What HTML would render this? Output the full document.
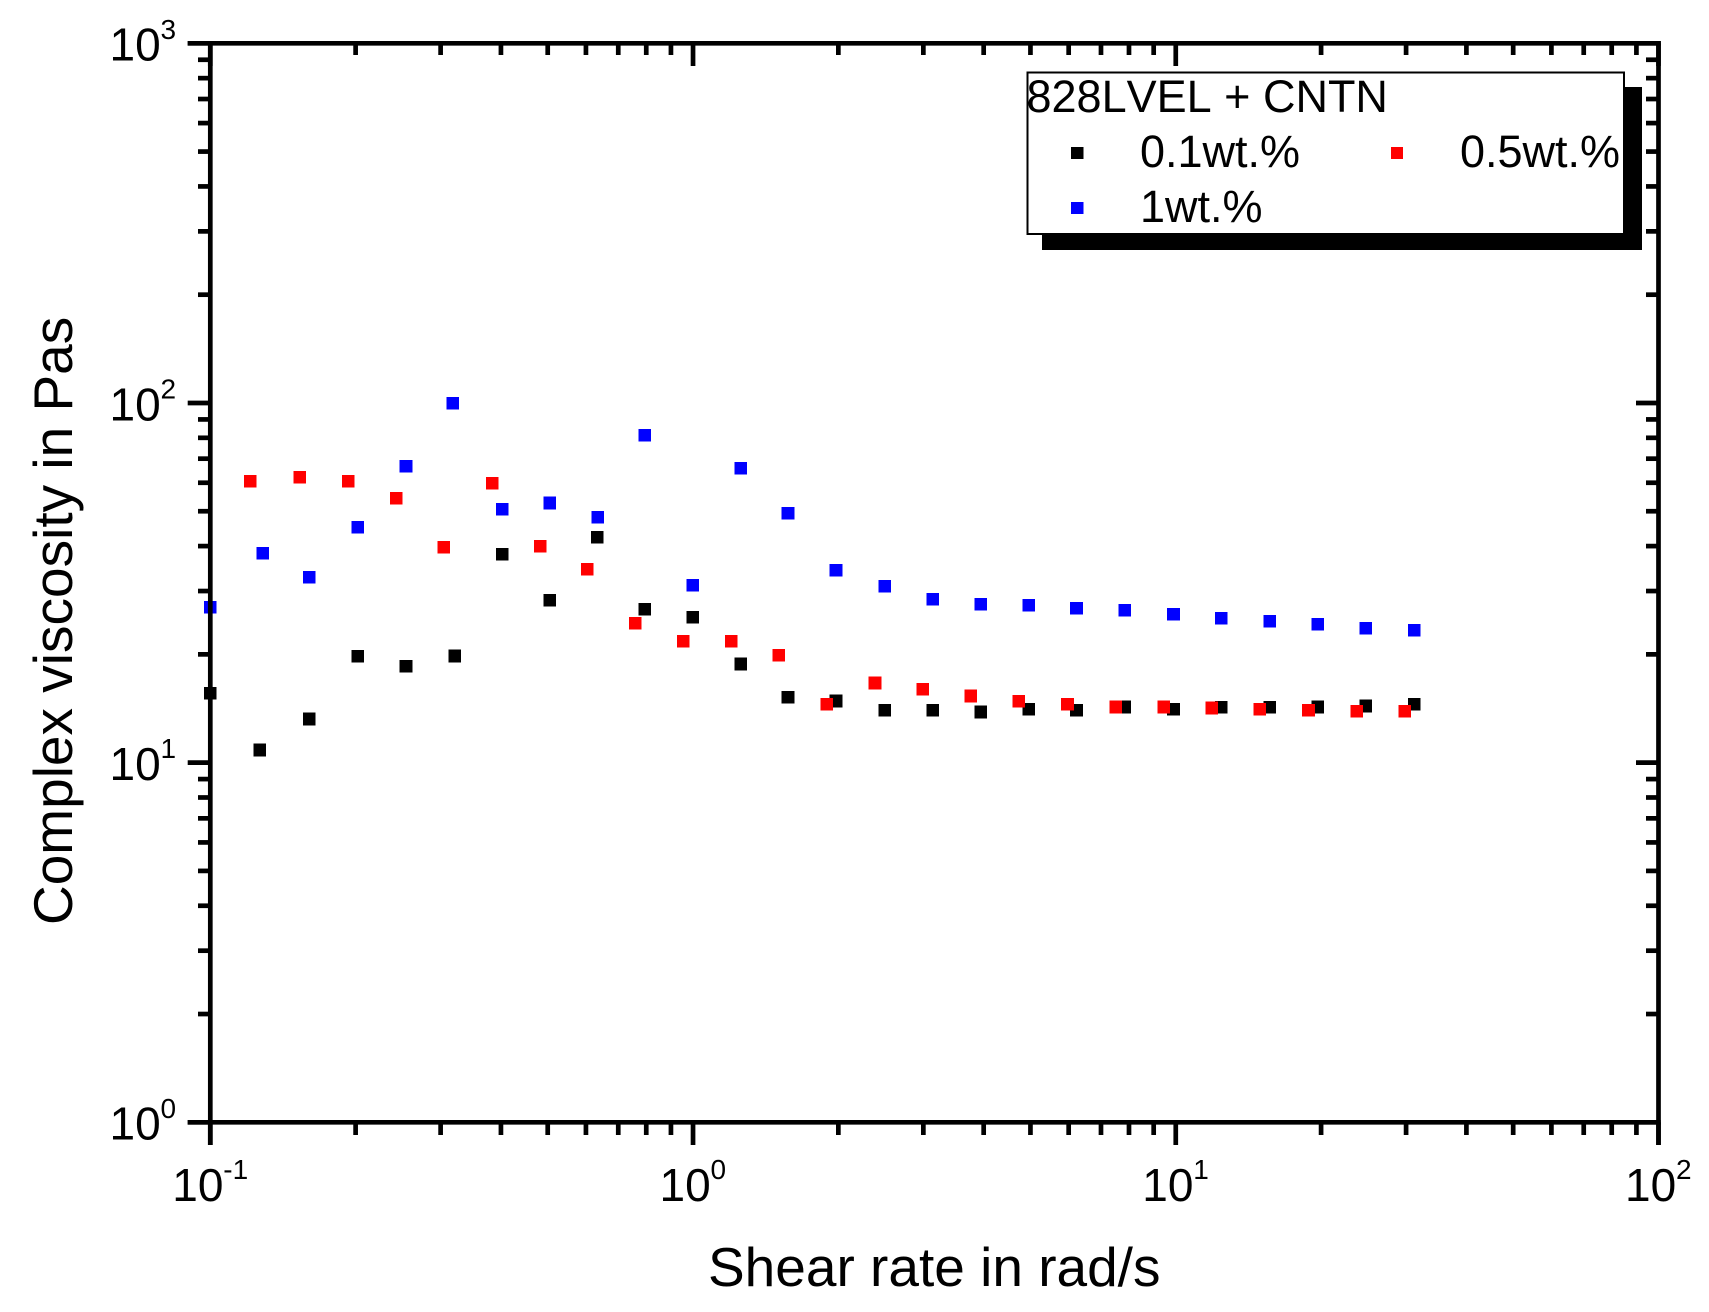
<!DOCTYPE html>
<html lang="en">
<head>
<meta charset="utf-8">
<title>Complex viscosity vs shear rate</title>
<style>
  html, body { margin: 0; padding: 0; background: #fff; }
  svg { display: block; }
  text { font-family: "Liberation Sans", Arial, sans-serif; fill: #000; font-kerning: none; }
</style>
</head>
<body>
<svg id="chart" xmlns="http://www.w3.org/2000/svg" width="1709" height="1312" viewBox="0 0 1709 1312">
  <rect x="0" y="0" width="1709" height="1312" fill="#fff"/>
  <g id="points"></g>
  <g id="axes"></g>
  <g id="labels"></g>
  <text x="708" y="1286" font-size="55">Shear rate in rad/s</text>
  <text transform="translate(72 925) rotate(-90)" x="0" y="0" font-size="55">Complex viscosity in Pas</text>
  <g>
    <rect x="1042" y="87" width="600" height="163" fill="#000"/>
    <rect x="1027.5" y="72.5" width="596.5" height="161.5" fill="#fff" stroke="#000" stroke-width="2"/>
    <text x="1026.5" y="112" font-size="45">828LVEL + CNTN</text>
    <rect x="1071" y="147" width="12.5" height="12" fill="#000" shape-rendering="crispEdges"/>
    <text x="1140" y="167" font-size="45">0.1wt.%</text>
    <rect x="1391" y="147" width="12" height="12" fill="#f00" shape-rendering="crispEdges"/>
    <text x="1460" y="167" font-size="45">0.5wt.%</text>
    <rect x="1071" y="202" width="12.5" height="12" fill="#00f" shape-rendering="crispEdges"/>
    <text x="1140" y="222" font-size="45">1wt.%</text>
  </g>
</svg>
<script>
// Series values
const seriesNames = ['0.1wt', '0.5wt', '1wt'];
const seriesColors = ['#000000', '#ff0000', '#0000ff'];

const rate01 = [0.1, 0.1267, 0.1603, 0.2022, 0.2543, 0.321, 0.4022, 0.505, 0.633, 0.794, 0.999, 1.255, 1.573, 1.978, 2.494, 3.135, 3.942, 4.962, 6.229, 7.843, 9.89, 12.43, 15.65, 19.68, 24.74, 31.2];
const visc01 = [15.61, 10.84, 13.22, 19.75, 18.53, 19.79, 37.94, 28.26, 42.3, 26.73, 25.34, 18.8, 15.19, 14.84, 14.0, 13.98, 13.83, 14.07, 14.0, 14.28, 14.09, 14.25, 14.25, 14.28, 14.37, 14.53];

const rate05 = [0.121, 0.1533, 0.1931, 0.2428, 0.3046, 0.3836, 0.4822, 0.6034, 0.7585, 0.9535, 1.199, 1.505, 1.892, 2.382, 2.994, 3.764, 4.732, 5.967, 7.504, 9.445, 11.87, 14.93, 18.83, 23.69, 29.79];
const visc05 = [60.53, 62.23, 60.66, 54.4, 39.68, 59.77, 40.01, 34.47, 24.39, 21.74, 21.74, 19.88, 14.55, 16.65, 15.99, 15.32, 14.81, 14.55, 14.28, 14.28, 14.19, 14.09, 14.0, 13.89, 13.89];

const rate1 = [0.1, 0.1285, 0.1603, 0.2022, 0.2543, 0.318, 0.4022, 0.505, 0.635, 0.794, 0.999, 1.255, 1.573, 1.978, 2.494, 3.135, 3.942, 4.962, 6.229, 7.843, 9.89, 12.43, 15.65, 19.68, 24.74, 31.2];
const visc1 = [27.02, 38.18, 32.75, 45.09, 66.64, 99.93, 50.7, 52.7, 48.08, 81.26, 31.11, 65.8, 49.42, 34.31, 30.91, 28.44, 27.6, 27.42, 26.85, 26.51, 25.84, 25.23, 24.7, 24.24, 23.67, 23.32];

// Axis ticks and labels
const xExponents = [-1, 0, 1, 2];
const yExponents = [0, 1, 2, 3];
const minorMultipliers = [2, 3, 4, 5, 6, 7, 8, 9];

const NS = 'http://www.w3.org/2000/svg';
const LEFT = 210.3, RIGHT = 1658.5, TOP = 43.3, BOTTOM = 1122.3;
const xMinExp = xExponents[0], xMaxExp = xExponents[xExponents.length - 1];
const yMinExp = yExponents[0], yMaxExp = yExponents[yExponents.length - 1];

function xScale(v) {
  return LEFT + (Math.log10(v) - xMinExp) / (xMaxExp - xMinExp) * (RIGHT - LEFT);
}
function yScale(v) {
  return BOTTOM - (Math.log10(v) - yMinExp) / (yMaxExp - yMinExp) * (BOTTOM - TOP);
}

const pointsGroup = document.getElementById('points');
const axesGroup = document.getElementById('axes');
const labelsGroup = document.getElementById('labels');
const MARKER = 12.6;

function drawSeries(index, xs, ys) {
  for (let i = 0; i < xs.length; i++) {
    const r = document.createElementNS(NS, 'rect');
    
    
    r.setAttribute('x', (xScale(xs[i]) - MARKER / 2).toFixed(2));
    r.setAttribute('y', (yScale(ys[i]) - MARKER / 2).toFixed(2));
    r.setAttribute('width', MARKER);
    r.setAttribute('height', MARKER);
    r.setAttribute('fill', seriesColors[index]);
    r.setAttribute('shape-rendering', 'crispEdges');
    pointsGroup.appendChild(r);
  }
}
drawSeries(0, rate01, visc01);
drawSeries(1, rate05, visc05);
drawSeries(2, rate1, visc1);

function drawLine(name, x1, y1, x2, y2) {
  const l = document.createElementNS(NS, 'line');
  
  
  l.setAttribute('x1', x1);
  l.setAttribute('y1', y1);
  l.setAttribute('x2', x2);
  l.setAttribute('y2', y2);
  l.setAttribute('stroke', '#000');
  l.setAttribute('stroke-width', '4.7');
  axesGroup.appendChild(l);
}

drawLine('x-axis-bottom', 187.7, BOTTOM, RIGHT + 2.3, BOTTOM);
drawLine('x-axis-top', 187.7, TOP, RIGHT + 2.3, TOP);
drawLine('y-axis-left', LEFT, TOP - 2.3, LEFT, 1145);
drawLine('y-axis-right', RIGHT, TOP - 2.3, RIGHT, 1145);

xExponents.forEach(function (e, idx) {
  const base = Math.pow(10, e);
  const px = xScale(base);
  drawLine('x-major-tick-bottom', px, BOTTOM, px, 1145);
  drawLine('x-major-tick-top', px, TOP, px, 66);
  if (idx < xExponents.length - 1) {
    minorMultipliers.forEach(function (m) {
      const mx = xScale(base * m);
      drawLine('x-minor-tick-bottom', mx, BOTTOM, mx, 1135);
      drawLine('x-minor-tick-top', mx, TOP, mx, 55);
    });
  }
  const tx = px - 33.5 - (e < 0 ? 4.5 : 0);
  const t = document.createElementNS(NS, 'text');
  
  
  t.setAttribute('x', tx);
  t.setAttribute('y', 1201);
  t.setAttribute('font-size', '46');
  t.textContent = '10';
  labelsGroup.appendChild(t);
  const s = document.createElementNS(NS, 'text');
  
  
  s.setAttribute('x', tx + 51);
  s.setAttribute('y', 1179);
  s.setAttribute('font-size', '28');
  s.textContent = String(e);
  labelsGroup.appendChild(s);
});

yExponents.forEach(function (e, idx) {
  const base = Math.pow(10, e);
  const py = yScale(base);
  drawLine('y-major-tick-left', 187.7, py, LEFT, py);
  drawLine('y-major-tick-right', 1636, py, RIGHT, py);
  if (idx < yExponents.length - 1) {
    minorMultipliers.forEach(function (m) {
      const my = yScale(base * m);
      drawLine('y-minor-tick-left', 198, my, LEFT, my);
      drawLine('y-minor-tick-right', 1646, my, RIGHT, my);
    });
  }
  const t = document.createElementNS(NS, 'text');
  
  
  t.setAttribute('x', 109.5);
  t.setAttribute('y', py + 17.3);
  t.setAttribute('font-size', '46');
  t.textContent = '10';
  labelsGroup.appendChild(t);
  const s = document.createElementNS(NS, 'text');
  
  
  s.setAttribute('x', 160.5);
  s.setAttribute('y', py - 4.5);
  s.setAttribute('font-size', '28');
  s.textContent = String(e);
  labelsGroup.appendChild(s);
});
</script>
</body>
</html>
